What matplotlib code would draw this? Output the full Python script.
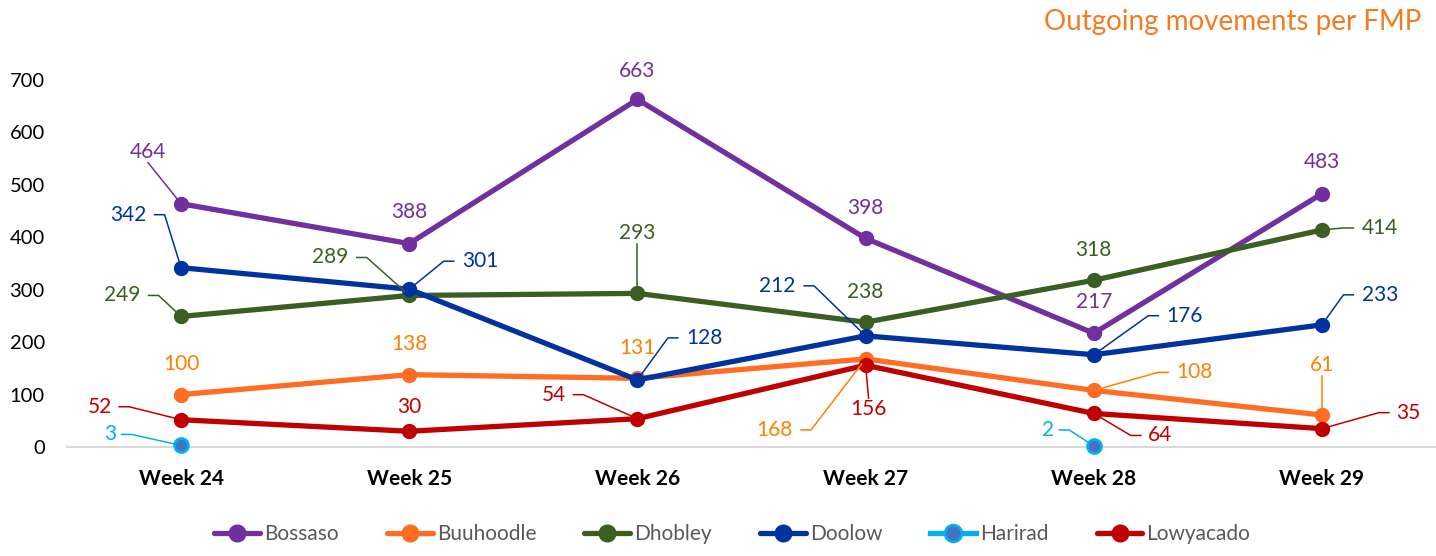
import numpy as np
import matplotlib
matplotlib.use('Agg')
import matplotlib.pyplot as plt
from matplotlib.lines import Line2D

plt.rcParams['font.family'] = ['Lato', 'DejaVu Sans']

# 数据
weeks = ['Week 24', 'Week 25', 'Week 26', 'Week 27', 'Week 28', 'Week 29']
bossaso = [464, 388, 663, 398, 217, 483]
buuhoodle = [100, 138, 131, 168, 108, 61]
dhobley = [249, 289, 293, 238, 318, 414]
doolow = [342, 301, 128, 212, 176, 233]
harirad = [3, np.nan, np.nan, np.nan, 2, np.nan]
lowyacado = [52, 30, 54, 156, 64, 35]

names = ['Bossaso', 'Buuhoodle', 'Dhobley', 'Doolow', 'Harirad', 'Lowyacado']
series = [bossaso, buuhoodle, dhobley, doolow, harirad, lowyacado]

# 样式
line_colors = ['#7030a0', '#ff6d24', '#3b5e23', '#0033a0', '#00b0f0', '#c00000']
label_colors = ['#7030a0', '#ff8000', '#3b5e23', '#0033a0', '#00b0f0', '#c00000']

# 标签位置（像素偏移 dx, dy, 引线类型）
offsets = {
    'Bossaso': [(-33, 52, 'line'), (0, 32, None), (0, 28, None), (0, 30, None), (0, 31, None), (0, 32, None)],
    'Buuhoodle': [(0, 31, None), (0, 31, None), (0, 30, None), (-91, -71, 'elbow'), (101, 18, 'elbow'), (0, 50, 'line')],
    'Dhobley': [(-59, 21, 'elbow'), (-79, 38, 'elbow'), (0, 60, 'line'), (0, 30, None), (0, 30, None), (58, 2, 'elbow')],
    'Doolow': [(-53, 53, 'elbow'), (71, 28, 'elbow'), (67, 42, 'elbow'), (-88, 50, 'elbow'), (91, 39, 'elbow'), (58, 30, 'elbow')],
    'Harirad': [(-71, 11, 'elbow'), None, None, None, (-46, 16, 'elbow'), None],
    'Lowyacado': [(-81, 13, 'elbow'), (0, 24, None), (-83, 24, 'elbow'), (3, -44, 'line'), (66, -22, 'elbow'), (86, 16, 'elbow')],
}

fig = plt.figure(figsize=(14.36, 5.56), dpi=100)
ax = fig.add_axes([67 / 1436, 1 - 447 / 556, 1 - 67 / 1436, (447 - 80) / 556])

x = np.arange(len(weeks))
for name, vals, c in zip(names, series, line_colors):
    if name == 'Harirad':
        ax.plot(x, vals, color=c, lw=3.8, marker='o', markersize=10,
                markerfacecolor='#4472c4', markeredgecolor=c, markeredgewidth=2,
                clip_on=False, zorder=3, label=name)
    else:
        ax.plot(x, vals, color=c, lw=3.8, marker='o', markersize=10,
                clip_on=False, zorder=3, label=name, solid_capstyle='round')

ax.set_xlim(-0.5, 5.5)
ax.set_ylim(0, 700)
ax.set_yticks(np.arange(0, 701, 100))
ax.set_xticks(x)
ax.set_xticklabels(weeks, fontweight='bold', fontsize=15)
ax.tick_params(axis='y', length=0, pad=16, labelsize=14.5)
ax.tick_params(axis='x', length=0, pad=16)
for s in ['top', 'right', 'left']:
    ax.spines[s].set_visible(False)
ax.spines['bottom'].set_color('#d9d9d9')
ax.spines['bottom'].set_linewidth(1.5)

# 数据标签和引线
fig.canvas.draw()
for name, vals, c in zip(names, series, label_colors):
    for i, v in enumerate(vals):
        off = offsets[name][i]
        if off is None or np.isnan(v):
            continue
        dx, dy, lead = off
        ax.annotate(str(int(v)), (i, v), xytext=(dx, dy), textcoords='offset pixels',
                    ha='center', va='center', color=c, fontsize=15, zorder=5)
        if lead is None:
            continue
        px, py = ax.transData.transform((i, v))
        tx, ty = px + dx, py + dy
        hw = 7.5 * len(str(int(v))) + 4
        if lead == 'elbow':
            sgn = 1 if dx < 0 else -1
            x0 = tx + sgn * hw
            x1 = x0 + sgn * 10
            pts = [(x0, ty), (x1, ty)]
        else:
            sgn = -1 if dy > 0 else 1
            pts = [(tx, ty + sgn * 11)]
        ex, ey = pts[-1]
        d = np.hypot(px - ex, py - ey)
        shrink = 6
        pts.append((px - (px - ex) * shrink / d, py - (py - ey) * shrink / d))
        xs, ys = zip(*pts)
        fig.add_artist(Line2D(xs, ys, color=line_colors[names.index(name)] if name != 'Buuhoodle' else c,
                              lw=1.1, transform=None, zorder=4))

fig.text(0.99, 0.96, 'Outgoing movements per FMP', ha='right', va='center',
         color='#f47b20', fontsize=20)

leg = fig.legend(loc='lower center', bbox_to_anchor=(0.51, -0.012), ncol=6, frameon=False,
                 fontsize=15, handlelength=2.2, columnspacing=2.3, handletextpad=0.2,
                 markerscale=1.2)
for t in leg.get_texts():
    t.set_color('#595959')

fig.savefig('out.png', dpi=100)
